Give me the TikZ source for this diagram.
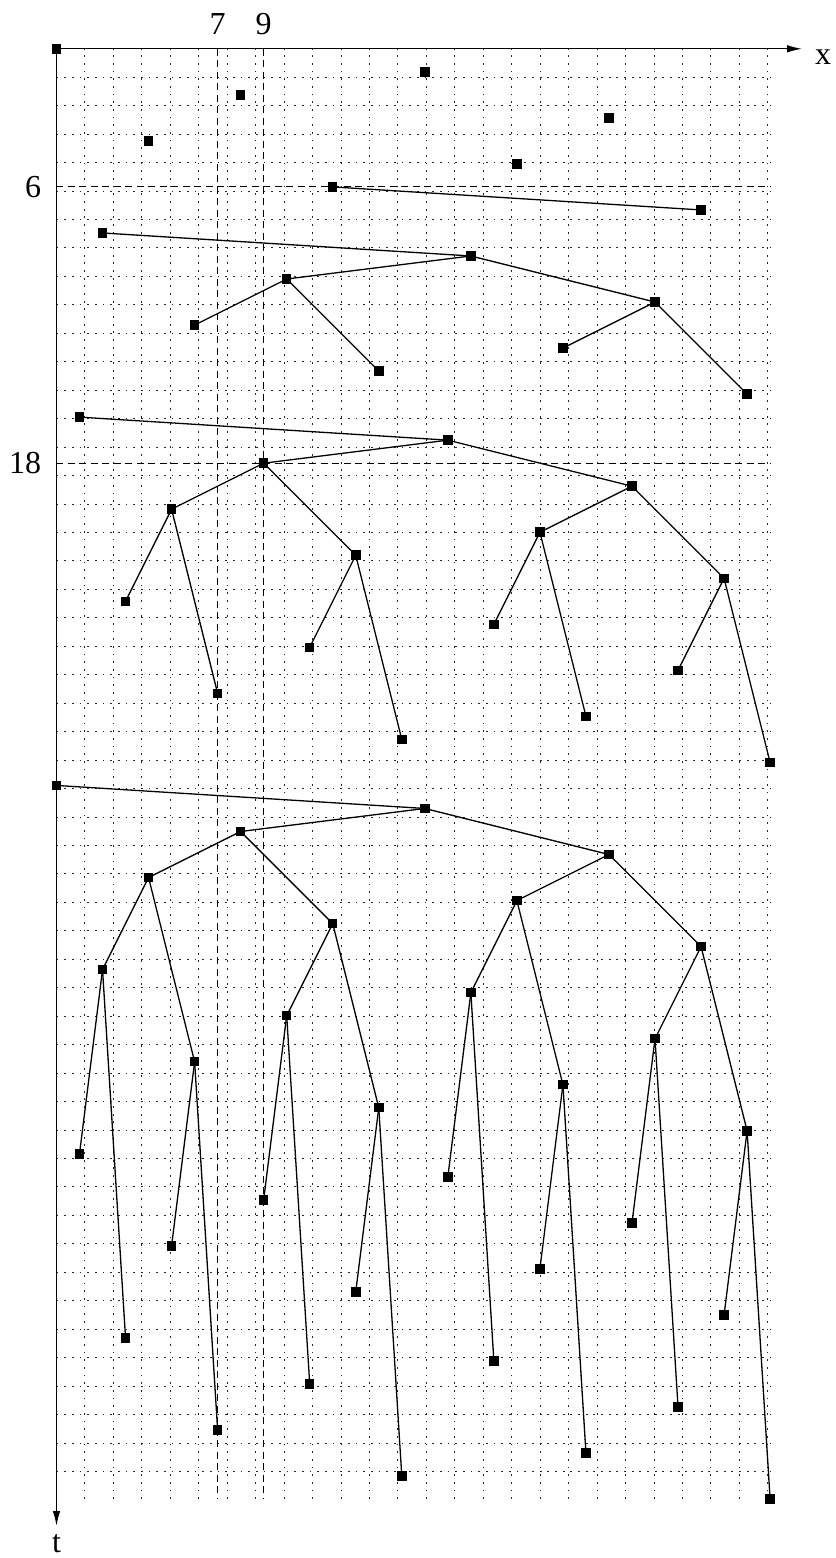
\documentclass[tikz,border=0pt]{standalone}
\usepackage{fontspec}
\setmainfont{Liberation Serif}
\usetikzlibrary{arrows.meta}
\begin{document}
\begin{tikzpicture}[x=23.02pt,y=-23.02pt,
  gridline/.style={line width=1pt,black!85,dash pattern=on 1.8pt off 5.87pt},
  guideline/.style={line width=1.1pt,dash pattern=on 7pt off 4.5pt},
  axisline/.style={line width=1.4pt,-{Latex[length=15pt,width=7.5pt]}},
  edgeline/.style={line width=1.3pt},
  sq/.style={fill=black,draw=none,minimum size=9.5pt,inner sep=0pt,outer sep=0pt,rectangle},
  lbl/.style={font=\fontsize{32}{36}\selectfont,inner sep=0pt}]
\useasboundingbox (-2.454,-2.120) rectangle (33.862,65.560);
% grid
\draw[gridline] (0,0) grid (31,63);
% guide lines
\draw[guideline] (0,6) -- (31,6);
\draw[guideline] (0,18) -- (31,18);
\draw[guideline] (7,0) -- (7,63);
\draw[guideline] (9,0) -- (9,63);
% axes
\coordinate (o) at (0,0);
\coordinate (xend) at (32.39,0);
\coordinate (tend) at (0,64.17);
\draw[axisline] (o) -- (xend);
\draw[axisline] (o) -- (tend);
\node[lbl] (xl) at (33.30,0.36) {x};
\node[lbl] (tl) at (0,64.95) {t};
\node[lbl] (l7) at (7,-1.08) {7};
\node[lbl] (l9) at (9,-1.08) {9};
\node[lbl,anchor=east] (l6) at (-0.66,6) {6};
\node[lbl,anchor=east] (l18) at (-0.66,18) {18};
% points
\foreach \n/\x in {0/0,1/16,2/8,3/24,4/4,5/20,6/12,7/28,8/2,9/18,10/10,11/26,12/6,13/22,14/14,15/30,16/1,17/17,18/9,19/25,20/5,21/21,22/13,23/29,24/3,25/19,26/11,27/27,28/7,29/23,30/15,31/31}{
  \pgfmathtruncatemacro{\m}{\n+32}
  \coordinate (p\n) at (\x,\n);
  \coordinate (p\m) at (\x,\m);
}
% edges
\foreach \a/\b in {6/7,
  8/9,9/10,9/11,10/12,10/14,11/13,11/15,
  16/17,17/18,17/19,18/20,18/22,19/21,19/23,20/24,20/28,21/25,21/29,22/26,22/30,23/27,23/31,
  32/33,33/34,33/35,34/36,34/38,35/37,35/39,36/40,36/44,37/41,37/45,38/42,38/46,39/43,39/47,
  40/48,40/56,41/49,41/57,42/50,42/58,43/51,43/59,44/52,44/60,45/53,45/61,46/54,46/62,47/55,47/63}{
  \draw[edgeline] (p\a) -- (p\b);
}
\foreach \n in {0,...,63}{
  \node[sq] (s\n) at (p\n) {};
}
\end{tikzpicture}
\end{document}
